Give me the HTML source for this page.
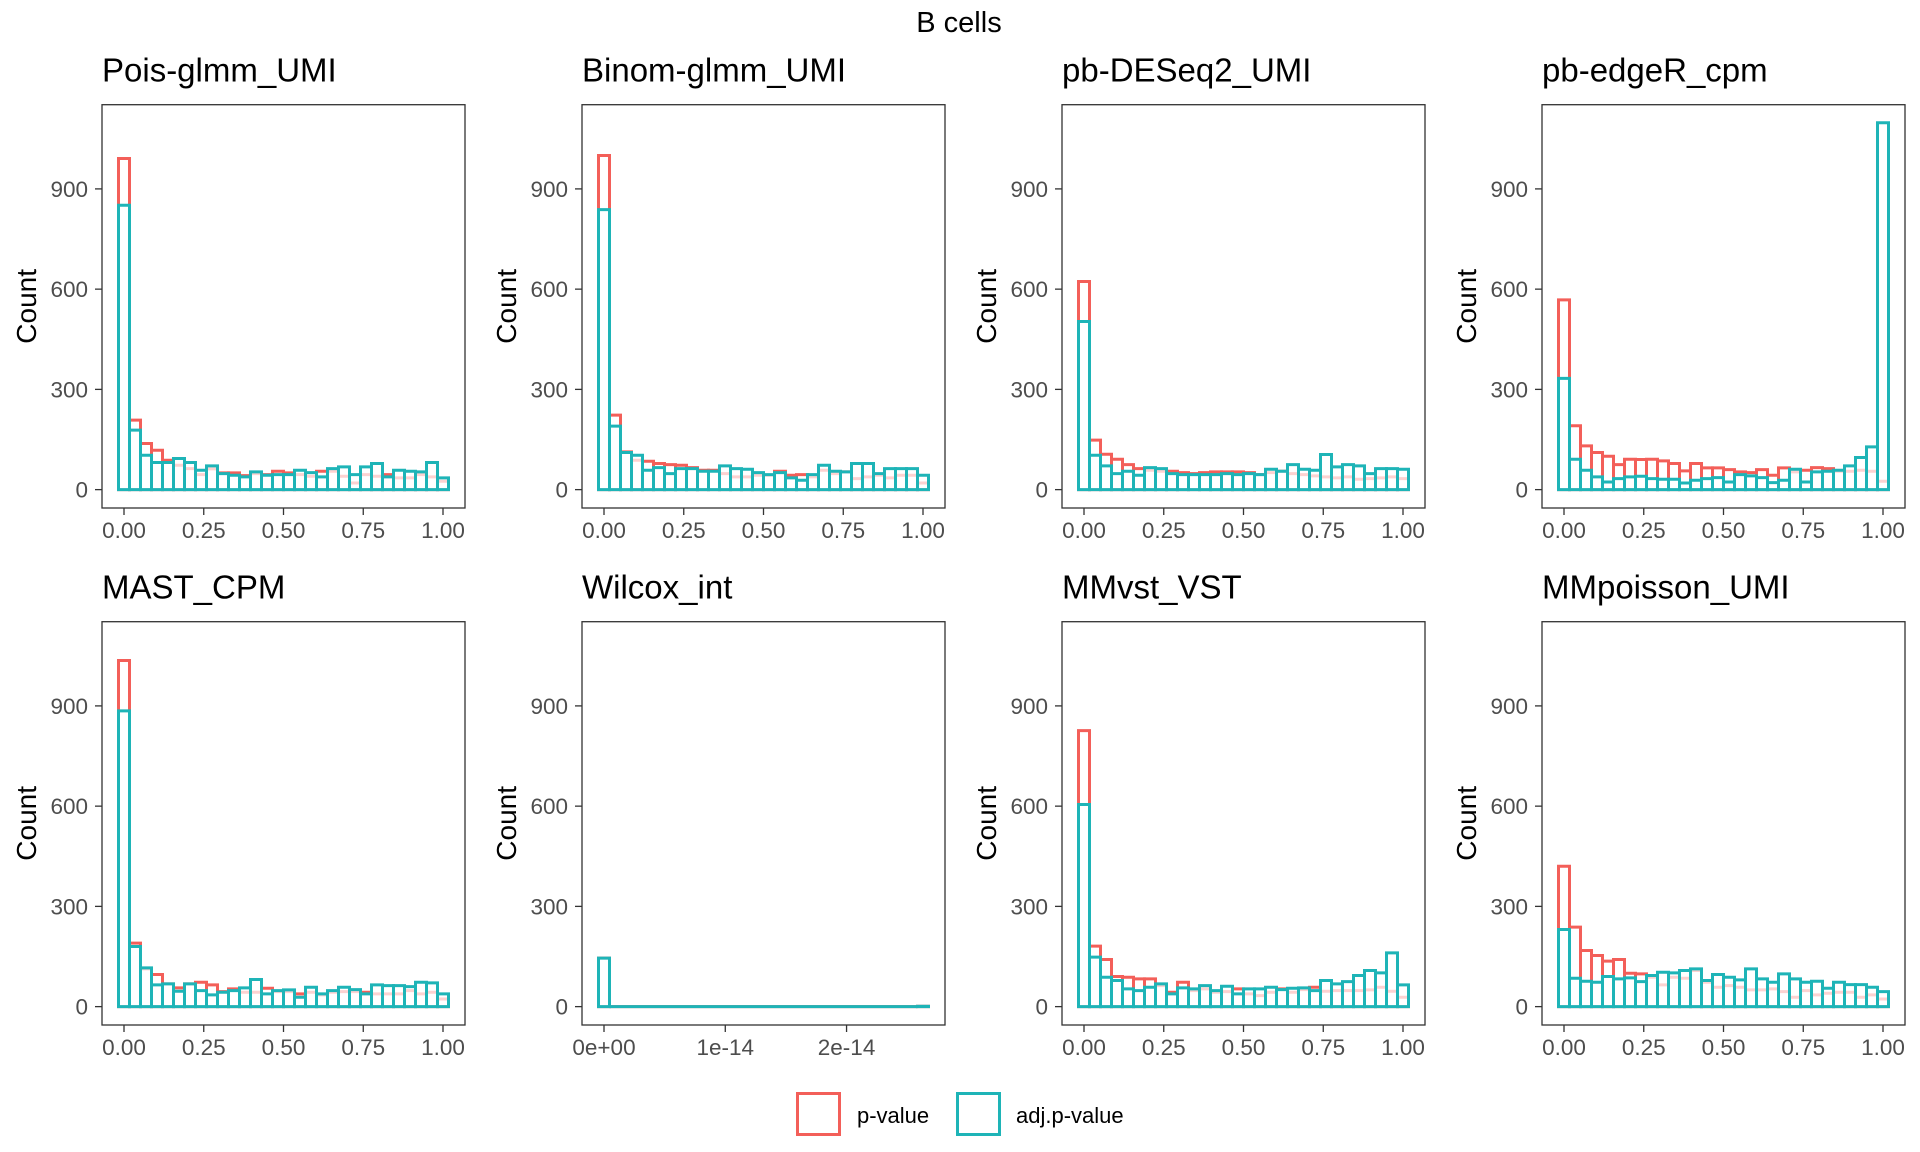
<!DOCTYPE html>
<html><head><meta charset="utf-8">
<style>
html,body{margin:0;padding:0;background:#fff;}
svg{display:block;font-family:"Liberation Sans",Arial,sans-serif;}
</style></head>
<body>
<svg id="chart" width="1920" height="1152" viewBox="0 0 1920 1152" xmlns="http://www.w3.org/2000/svg">
<rect width="1920" height="1152" fill="#fff"/>
<text x="959" y="32" font-size="29" text-anchor="middle" fill="#000">B cells</text>
<g>
<rect x="797.5" y="1093.5" width="42" height="41" fill="#fff" stroke="#F35F59" stroke-width="3"/>
<text x="857" y="1123" font-size="22" fill="#000">p-value</text>
<rect x="957.5" y="1093.5" width="42" height="41" fill="#fff" stroke="#1EB4B7" stroke-width="3"/>
<text x="1016" y="1123" font-size="22" fill="#000">adj.p-value</text>
</g>
</svg>
<script>
const panelTitles = ["Pois-glmm_UMI","Binom-glmm_UMI","pb-DESeq2_UMI","pb-edgeR_cpm","MAST_CPM","Wilcox_int","MMvst_VST","MMpoisson_UMI"];
const yTicks = [0,300,600,900];
const xTicksP = [0,0.25,0.5,0.75,1];
const xTickLabelsP = ["0.00","0.25","0.50","0.75","1.00"];
const xTicksW = [0,1,2];
const xTickLabelsW = ["0e+00","1e-14","2e-14"];

const poisRaw = [991,208,138,118,88,73,63,45,62,50,50,42,48,45,55,50,45,40,55,55,40,20,45,40,45,35,35,45,38,25];
const poisAdj = [851,178,103,81,81,93,81,58,71,48,43,38,53,43,45,45,58,51,38,63,68,45,68,78,38,58,55,53,81,35];
const binomRaw = [1000,223,113,88,85,78,75,73,66,58,58,48,38,38,43,43,55,43,45,38,58,48,53,33,38,43,35,43,43,20];
const binomAdj = [838,190,111,103,58,66,48,63,63,55,55,71,63,61,51,45,51,35,28,45,73,55,53,78,78,48,63,63,63,43];
const deseqRaw = [623,148,106,91,75,63,58,55,55,51,48,51,53,53,53,51,45,51,55,48,45,41,38,35,38,31,33,35,38,33];
const deseqAdj = [503,103,71,48,55,43,66,63,48,45,45,45,45,48,45,48,45,61,55,75,61,58,105,68,75,71,48,63,63,61];
const edgerRaw = [568,191,131,111,100,75,91,90,91,86,78,56,78,65,65,60,53,51,60,43,65,53,58,66,63,55,55,58,55,25];
const edgerAdj = [333,91,58,38,23,33,38,40,33,31,31,20,28,33,36,23,45,41,36,21,28,61,23,53,55,58,71,96,128,1098];
const mastRaw = [1036,190,113,96,68,56,68,73,65,45,53,43,43,55,45,45,38,43,35,43,45,45,43,38,38,38,48,38,43,23];
const mastAdj = [885,180,116,65,68,46,68,48,35,43,48,56,81,38,48,50,28,58,38,48,58,51,38,65,63,63,60,73,71,38];
const wilcoxRaw = [145,0,0,0,0,0,0,0,0,0,0,0,0,0,0,0,0,0,0,0,0,0,0,0,0,0,0,0,0,1];
const wilcoxAdj = [145,0,0,0,0,0,0,0,0,0,0,0,0,0,0,0,0,0,0,0,0,0,0,0,0,0,0,0,0,1];
const mmvstRaw = [826,181,141,90,88,83,83,63,43,73,48,53,43,45,53,38,33,43,53,43,51,58,46,48,48,48,50,58,46,28];
const mmvstAdj = [605,148,88,78,53,48,58,68,38,56,53,63,48,61,38,53,53,58,51,55,56,48,78,68,75,93,108,101,161,65];
const mmpoisRaw = [420,238,168,153,136,141,100,98,88,65,88,85,108,73,58,63,58,50,50,53,45,28,48,35,40,43,43,28,35,23];
const mmpoisAdj = [231,85,76,73,90,83,86,75,93,103,101,108,113,78,96,88,80,113,83,73,98,83,73,76,55,73,66,66,58,45];

const rawSeries = [poisRaw,binomRaw,deseqRaw,edgerRaw,mastRaw,wilcoxRaw,mmvstRaw,mmpoisRaw];
const adjSeries = [poisAdj,binomAdj,deseqAdj,edgerAdj,mastAdj,wilcoxAdj,mmvstAdj,mmpoisAdj];

const NS = "http://www.w3.org/2000/svg";
const svg = document.getElementById("chart");
const PW = 363, PH = 403.3;
const yMin = -55, yMax = 1152;
const RED = "#F35F59", TEAL = "#1EB4B7";

function mk(tag, attrs, parent){
  const e = document.createElementNS(NS, tag);
  for (const k in attrs) e.setAttribute(k, attrs[k]);
  parent.appendChild(e);
  return e;
}

panelTitles.forEach((title, p) => {
  const col = p % 4, row = Math.floor(p / 4);
  const L = 102 + col * 480, T = 104.7 + row * 517;
  const isW = p === 5;
  let xd0, xd1, binW;
  if (isW) { binW = 0.0907; const lo = -binW/2, hi = 29*binW + binW/2, ex = (hi-lo)*0.05; xd0 = lo-ex; xd1 = hi+ex; }
  else { binW = 1/29; const lo = -binW/2, hi = 1 + binW/2, ex = (hi-lo)*0.05; xd0 = lo-ex; xd1 = hi+ex; }
  const xs = v => L + (v - xd0) / (xd1 - xd0) * PW;
  const ys = v => T + PH - (v - yMin) / (yMax - yMin) * PH;

  const g = mk("g", {}, svg);
  
  

  const tt = mk("text", {x: L, y: T - 23, "font-size": 33, fill: "#000"}, g);
  
  
  tt.textContent = title;

  const yl = mk("text", {x: 0, y: 0, "font-size": 28, fill: "#000", "text-anchor": "middle",
    transform: "translate(" + (L - 66) + "," + (T + PH/2) + ") rotate(-90)"}, g);
  
  
  yl.textContent = "Count";

  [[rawSeries[p], RED, 'bar-p-value'], [adjSeries[p], TEAL, 'bar-adj-p-value']].forEach(([vals, color, nm]) => {
    vals.forEach((v, i) => {
      const c = i * binW;
      const x0 = xs(c - binW/2), x1 = xs(c + binW/2);
      const y0 = ys(0), y1 = ys(v);
      const d = "M" + x0 + "," + y0 + "L" + x0 + "," + y1 + "L" + x1 + "," + y1 + "L" + x1 + "," + y0 + "Z";
      const r = mk("path", {d: d, fill: "#fff", "fill-opacity": 0.72, stroke: color, "stroke-width": 3}, g);
      
      
    });
  });

  const fr = mk("rect", {x: L, y: T, width: PW, height: PH, fill: "none", stroke: "#333", "stroke-width": 1.3}, g);
  
  

  yTicks.forEach(v => {
    const y = ys(v);
    const tk = mk("line", {x1: L - 7, x2: L, y1: y, y2: y, stroke: "#333", "stroke-width": 1.3}, g);
    
    
    const lb = mk("text", {x: L - 14, y: y + 8, "font-size": 22.5, fill: "#4D4D4D", "text-anchor": "end"}, g);
    
    
    lb.textContent = String(v);
  });

  const xt = isW ? xTicksW : xTicksP, xl = isW ? xTickLabelsW : xTickLabelsP;
  xt.forEach((v, i) => {
    const x = xs(v);
    const tk = mk("line", {x1: x, x2: x, y1: T + PH, y2: T + PH + 7, stroke: "#333", "stroke-width": 1.3}, g);
    
    
    const lb = mk("text", {x: x, y: T + PH + 30, "font-size": 22.5, fill: "#4D4D4D", "text-anchor": "middle"}, g);
    
    
    lb.textContent = xl[i];
  });
});
</script>
</body></html>
